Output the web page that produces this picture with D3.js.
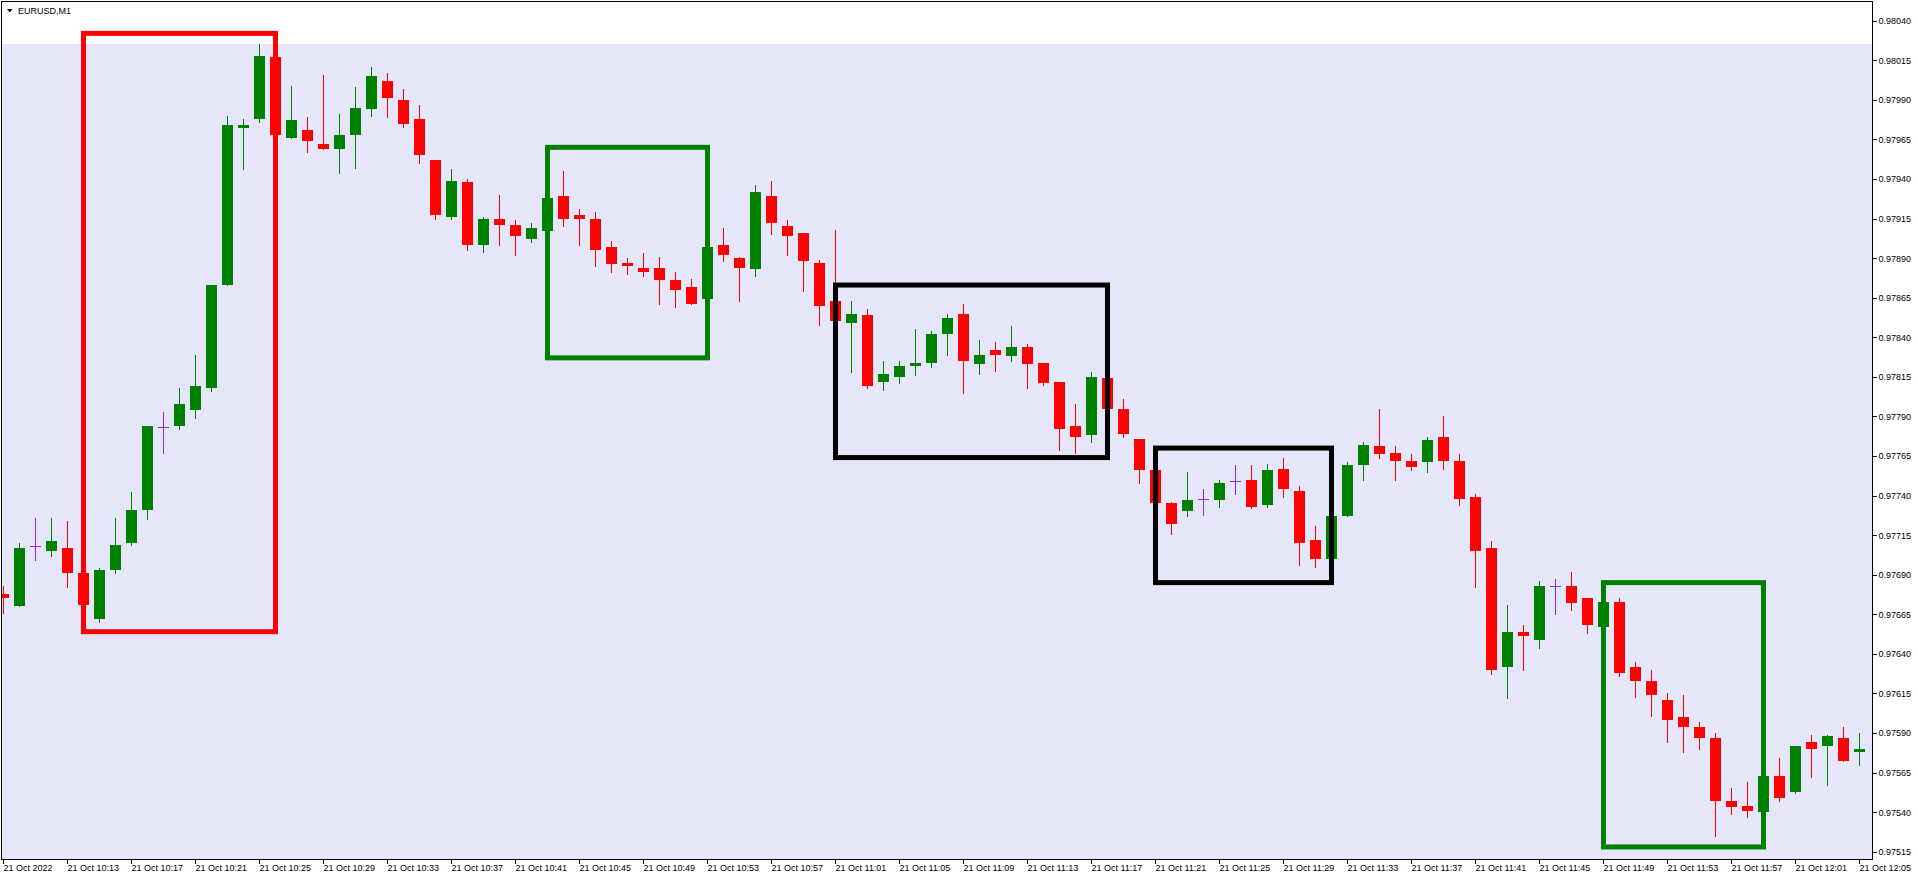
<!DOCTYPE html>
<html>
<head>
<meta charset="utf-8">
<script src="https://cdn.jsdelivr.net/npm/d3@7"></script>
<style>
html,body{margin:0;padding:0;background:#fff;}
svg{display:block;}
text{font-family:"Liberation Sans",Arial,sans-serif;}
</style>
</head>
<body>
<svg id="chart" width="1918" height="880"></svg>
<script>
// ---------------- DATA ----------------
const symbol = "EURUSD,M1";
const times = ["10:09","10:10","10:11","10:12","10:13","10:14","10:15","10:16","10:17","10:18","10:19","10:20","10:21","10:22","10:23","10:24","10:25","10:26","10:27","10:28","10:29","10:30","10:31","10:32","10:33","10:34","10:35","10:36","10:37","10:38","10:39","10:40","10:41","10:42","10:43","10:44","10:45","10:46","10:47","10:48","10:49","10:50","10:51","10:52","10:53","10:54","10:55","10:56","10:57","10:58","10:59","11:00","11:01","11:02","11:03","11:04","11:05","11:06","11:07","11:08","11:09","11:10","11:11","11:12","11:13","11:14","11:15","11:16","11:17","11:18","11:19","11:20","11:21","11:22","11:23","11:24","11:25","11:26","11:27","11:28","11:29","11:30","11:31","11:32","11:33","11:34","11:35","11:36","11:37","11:38","11:39","11:40","11:41","11:42","11:43","11:44","11:45","11:46","11:47","11:48","11:49","11:50","11:51","11:52","11:53","11:54","11:55","11:56","11:57","11:58","11:59","12:00","12:01","12:02","12:03","12:04","12:05"];
const open = [0.97678,0.97670,0.97708,0.97705,0.97707,0.97691,0.97662,0.97693,0.97710,0.97731,0.97783,0.97784,0.97794,0.97808,0.97873,0.97972,0.97978,0.98017,0.97966,0.97971,0.97962,0.97959,0.97968,0.97984,0.98002,0.97990,0.97978,0.97952,0.97916,0.97938,0.97898,0.97915,0.97911,0.97902,0.97907,0.97929,0.97917,0.97915,0.97897,0.97887,0.97884,0.97884,0.97876,0.97872,0.97864,0.97898,0.97890,0.97883,0.97929,0.97910,0.97906,0.97887,0.97863,0.97849,0.97854,0.97812,0.97815,0.97822,0.97824,0.97842,0.97855,0.97823,0.97832,0.97828,0.97834,0.97824,0.97812,0.97784,0.97778,0.97814,0.97795,0.97776,0.97756,0.97735,0.97730,0.97738,0.97737,0.97749,0.97750,0.97734,0.97757,0.97743,0.97712,0.97700,0.97727,0.97759,0.97771,0.97767,0.97762,0.97761,0.97777,0.97762,0.97739,0.97707,0.97632,0.97654,0.97649,0.97683,0.97683,0.97675,0.97657,0.97673,0.97632,0.97623,0.97611,0.97600,0.97594,0.97587,0.97547,0.97544,0.97540,0.97563,0.97553,0.97584,0.97582,0.97587,0.97578];
const high = [0.97683,0.97710,0.97726,0.97726,0.97724,0.97693,0.97694,0.97726,0.97742,0.97784,0.97793,0.97808,0.97829,0.97873,0.97980,0.97978,0.98025,0.98019,0.97999,0.97979,0.98006,0.97981,0.97998,0.98011,0.98007,0.97997,0.97987,0.97952,0.97946,0.97940,0.97916,0.97930,0.97914,0.97912,0.97929,0.97945,0.97921,0.97919,0.97901,0.97890,0.97893,0.97891,0.97881,0.97877,0.97898,0.97909,0.97891,0.97936,0.97939,0.97914,0.97906,0.97889,0.97908,0.97863,0.97858,0.97825,0.97825,0.97845,0.97844,0.97855,0.97861,0.97838,0.97837,0.97847,0.97836,0.97824,0.97812,0.97798,0.97818,0.97815,0.97801,0.97776,0.97757,0.97736,0.97755,0.97744,0.97750,0.97759,0.97759,0.97760,0.97764,0.97746,0.97721,0.97728,0.97761,0.97774,0.97795,0.97771,0.97766,0.97777,0.97790,0.97766,0.97741,0.97711,0.97671,0.97658,0.97686,0.97687,0.97692,0.97675,0.97674,0.97675,0.97635,0.97630,0.97615,0.97614,0.97597,0.97590,0.97555,0.97559,0.97564,0.97574,0.97582,0.97589,0.97589,0.97594,0.97590];
const low = [0.97666,0.97670,0.97699,0.97702,0.97682,0.97670,0.97660,0.97691,0.97709,0.97725,0.97767,0.97782,0.97789,0.97806,0.97873,0.97946,0.97976,0.97966,0.97966,0.97957,0.97959,0.97944,0.97947,0.97980,0.97979,0.97973,0.97950,0.97915,0.97915,0.97895,0.97894,0.97898,0.97892,0.97900,0.97906,0.97910,0.97898,0.97885,0.97881,0.97880,0.97879,0.97861,0.97859,0.97861,0.97863,0.97888,0.97863,0.97879,0.97905,0.97892,0.97869,0.97848,0.97849,0.97818,0.97808,0.97807,0.97811,0.97816,0.97821,0.97829,0.97805,0.97817,0.97819,0.97825,0.97808,0.97810,0.97769,0.97767,0.97774,0.97794,0.97777,0.97748,0.97734,0.97716,0.97727,0.97728,0.97733,0.97741,0.97732,0.97733,0.97739,0.97696,0.97695,0.97699,0.97727,0.97750,0.97764,0.97750,0.97756,0.97755,0.97757,0.97734,0.97682,0.97627,0.97612,0.97630,0.97644,0.97665,0.97668,0.97653,0.97656,0.97626,0.97613,0.97601,0.97584,0.97578,0.97580,0.97525,0.97539,0.97537,0.97539,0.97547,0.97552,0.97562,0.97557,0.97572,0.97570];
const close = [0.97675,0.97707,0.97708,0.97711,0.97691,0.97671,0.97693,0.97709,0.97731,0.97784,0.97783,0.97798,0.97809,0.97873,0.97974,0.97974,0.98018,0.97968,0.97977,0.97964,0.97959,0.97968,0.97985,0.98005,0.97991,0.97975,0.97955,0.97917,0.97939,0.97898,0.97915,0.97911,0.97904,0.97909,0.97928,0.97915,0.97915,0.97895,0.97886,0.97885,0.97881,0.97876,0.97870,0.97861,0.97897,0.97892,0.97884,0.97932,0.97912,0.97904,0.97888,0.97860,0.97850,0.97855,0.97809,0.97817,0.97822,0.97824,0.97842,0.97852,0.97825,0.97829,0.97829,0.97834,0.97823,0.97811,0.97782,0.97777,0.97815,0.97795,0.97779,0.97756,0.97735,0.97722,0.97737,0.97738,0.97748,0.97749,0.97733,0.97756,0.97744,0.97710,0.97700,0.97727,0.97759,0.97772,0.97766,0.97762,0.97758,0.97775,0.97762,0.97738,0.97705,0.97630,0.97654,0.97651,0.97683,0.97683,0.97672,0.97658,0.97673,0.97628,0.97623,0.97614,0.97598,0.97594,0.97587,0.97547,0.97543,0.97541,0.97563,0.97549,0.97582,0.97580,0.97588,0.97572,0.97580];

// price-axis tick labels
const priceTicks = [0.97515,0.97540,0.97565,0.97590,0.97615,0.97640,0.97665,0.97690,0.97715,0.97740,0.97765,0.97790,0.97815,0.97840,0.97865,0.97890,0.97915,0.97940,0.97965,0.97990,0.98015,0.98040];
// time-axis tick labels (bar index -> label)
const timeTickIdx = [0,4,8,12,16,20,24,28,32,36,40,44,48,52,56,60,64,68,72,76,80,84,88,92,96,100,104,108,112,116];
const timeTickLabels = ["21 Oct 2022","21 Oct 10:13","21 Oct 10:17","21 Oct 10:21","21 Oct 10:25","21 Oct 10:29","21 Oct 10:33","21 Oct 10:37","21 Oct 10:41","21 Oct 10:45","21 Oct 10:49","21 Oct 10:53","21 Oct 10:57","21 Oct 11:01","21 Oct 11:05","21 Oct 11:09","21 Oct 11:13","21 Oct 11:17","21 Oct 11:21","21 Oct 11:25","21 Oct 11:29","21 Oct 11:33","21 Oct 11:37","21 Oct 11:41","21 Oct 11:45","21 Oct 11:49","21 Oct 11:53","21 Oct 11:57","21 Oct 12:01","21 Oct 12:05"];

// annotation rectangles (time index range and price range)
const boxStart = [5, 34, 52, 72, 100];
const boxEnd   = [17, 44, 69, 83, 110];
const boxHigh  = [0.98032, 0.97960, 0.97873, 0.97770, 0.97685];
const boxLow   = [0.97654, 0.97827, 0.97764, 0.97685, 0.97518];
// shaded zone top price
const zoneTop = 0.98025;

// ---------------- STYLE ----------------
const boxColors = ["#ff0000", "#008000", "#000000", "#000000", "#008000"];
const upColor = "#008000", downColor = "#ff0000", dojiColor = "#8a2be2";
const zoneColor = "#e6e6fa";

// ---------------- LAYOUT ----------------
const W = 1918, H = 880;
const plotL = 2, plotT = 2, plotR = 1872, plotB = 859;

const svg = d3.select("#chart");
svg.append("rect").attr("x",0).attr("y",0).attr("width",W).attr("height",H).attr("fill","#fff");

const x = d3.scaleLinear().domain([0, 116]).range([3, 1859]);
const y = d3.scaleLinear().domain([0.97515, 0.98040]).range([851.7, 20.7]);

const clip = svg.append("clipPath").attr("id","plotclip")
  .append("rect").attr("x",plotL).attr("y",plotT).attr("width",plotR-plotL).attr("height",plotB-plotT);

const plot = svg.append("g").attr("clip-path","url(#plotclip)");

// shaded zone
plot.append("rect")
  .attr("x", plotL).attr("width", plotR - plotL)
  .attr("y", Math.round(y(zoneTop))).attr("height", plotB - Math.round(y(zoneTop)))
  .attr("fill", zoneColor);

const bars = d3.range(times.length).map(i => ({i, o:open[i], h:high[i], l:low[i], c:close[i]}));
const colorOf = d => d.c > d.o ? upColor : (d.c < d.o ? downColor : dojiColor);

const cg = plot.append("g").attr("shape-rendering","crispEdges");
// wicks
cg.selectAll("line.wick").data(bars).enter().append("line")
  .attr("x1", d => Math.round(x(d.i)) + 0.5).attr("x2", d => Math.round(x(d.i)) + 0.5)
  .attr("y1", d => Math.round(y(d.h))).attr("y2", d => Math.round(y(d.l)) + 1)
  .attr("stroke", colorOf).attr("stroke-width", 1);
// bodies
cg.selectAll("rect.body").data(bars).enter().append("rect")
  .attr("x", d => Math.round(x(d.i)) - 5)
  .attr("width", 11)
  .attr("y", d => Math.round(y(Math.max(d.o, d.c))))
  .attr("height", d => Math.max(1, Math.round(y(Math.min(d.o, d.c))) - Math.round(y(Math.max(d.o, d.c)))))
  .attr("fill", colorOf);

// annotation boxes
plot.append("g").selectAll("rect").data(boxStart.map((s,k)=>k)).enter().append("rect")
  .attr("x", k => x(boxStart[k]) + 0.5)
  .attr("y", k => y(boxHigh[k]))
  .attr("width", k => x(boxEnd[k]) - x(boxStart[k]))
  .attr("height", k => y(boxLow[k]) - y(boxHigh[k]))
  .attr("fill", "none")
  .attr("stroke", k => boxColors[k])
  .attr("stroke-width", 5);

// frame
svg.append("rect").attr("x", plotL - 0.5).attr("y", plotT - 0.5)
  .attr("width", plotR - plotL + 0.5).attr("height", plotB - plotT + 0.5)
  .attr("fill","none").attr("stroke","#000").attr("stroke-width",1).attr("shape-rendering","crispEdges");

// price axis
const yAxis = d3.axisRight(y).tickValues(priceTicks).tickFormat(d3.format(".5f")).tickSize(4).tickPadding(2);
const ya = svg.append("g").attr("transform", `translate(${plotR + 0.5},0)`).call(yAxis);
ya.select(".domain").remove();
ya.selectAll("line").attr("stroke","#000").attr("shape-rendering","crispEdges");
ya.selectAll("text").attr("fill","#000").style("font-size","9px").style("font-family","'Liberation Sans', Arial, sans-serif");

// time axis
const xAxis = d3.axisBottom(x).tickValues(timeTickIdx)
  .tickFormat((d, k) => timeTickLabels[k]).tickSize(4);
const xa = svg.append("g").attr("transform", `translate(0,${plotB + 0.5})`).call(xAxis);
xa.select(".domain").remove();
xa.selectAll(".tick").attr("transform", d => `translate(${Math.round(x(d)) + 0.5},0)`);
xa.selectAll("line").attr("stroke","#000").attr("shape-rendering","crispEdges");
xa.selectAll("text").attr("fill","#000").attr("text-anchor","start")
  .attr("x", 0).attr("y", 11.5).attr("dy", 0)
  .style("font-size","9px").style("font-family","'Liberation Sans', Arial, sans-serif");

// symbol label
svg.append("path").attr("d","M7,9 L12.5,9 L9.75,12.5 Z").attr("fill","#000");
svg.append("text").attr("x", 18).attr("y", 14).text(symbol)
  .attr("fill","#000").style("font-size","9px");
</script>
</body>
</html>
